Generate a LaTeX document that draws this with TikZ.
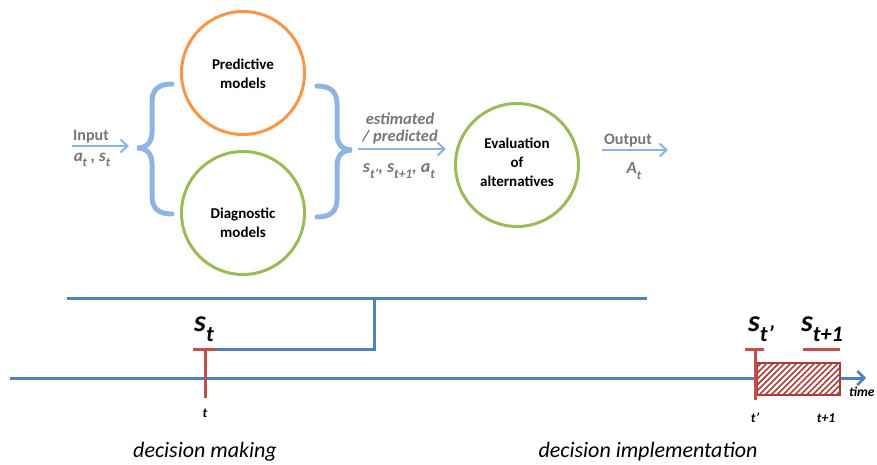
\documentclass[tikz,border=0pt]{standalone}
\usepackage{fontspec}
\setmainfont{Carlito}
\usetikzlibrary{arrows.meta,patterns.meta}
\definecolor{lblue}{RGB}{142,180,227}
\definecolor{dblue}{RGB}{79,129,189}
\definecolor{orng}{RGB}{247,150,70}
\definecolor{grn}{RGB}{155,187,89}
\definecolor{rd}{RGB}{192,80,77}
\definecolor{hatch}{RGB}{170,60,58}
\definecolor{gry}{RGB}{118,118,118}
% lowered, reduced index
\newcommand{\dn}[1]{\raisebox{-0.32em}{\scalebox{0.74}{#1}}}
\begin{document}
\begin{tikzpicture}[x=1pt,y=-1pt,
  model/.style={circle,line width=3pt,minimum size=123pt,inner sep=0pt},
  mtext/.style={font=\fontsize{15}{19}\selectfont\bfseries,align=center,text=black},
  brc/.style={draw=lblue,line width=5pt,line cap=round},
  flow/.style={draw=lblue,line width=2.5pt,-{Straight Barb[length=7pt,width=13pt,line width=2pt]}},
  glab/.style={font=\fontsize{16}{18}\selectfont\bfseries,text=gry,inner sep=0pt},
  gmath/.style={font=\fontsize{16.5}{18}\selectfont\bfseries\itshape,text=gry,inner sep=0pt},
  state/.style={font=\fontsize{30}{32}\selectfont\bfseries\itshape,inner sep=0pt},
  tick/.style={draw=rd,line width=3pt},
  tlab/.style={font=\fontsize{13.5}{15}\selectfont\bfseries\itshape,inner sep=0pt},
  phase/.style={font=\fontsize{22}{26}\selectfont\itshape,inner sep=0pt},
  tl/.style={draw=dblue,line width=3pt}]
\useasboundingbox (0,0) rectangle (877,465);

% models and evaluation
\node[model,draw=orng] (pred) at (243,73) {};
\node[mtext] at (243,74) {Predictive\\models};
\node[model,draw=grn] (diag) at (243,213) {};
\node[mtext] at (243,223) {Diagnostic\\models};
\node[model,draw=grn] (eval) at (517,165) {};
\node[mtext,font=\fontsize{15}{19}\selectfont\bfseries] at (517,162) {Evaluation\\of\\alternatives};

% braces around the model group
\draw[brc] (172,84) .. controls (158,84) and (152,90) .. (152,102) -- (152,132)
  .. controls (152,143) and (146,148) .. (137,148)
  .. controls (146,148) and (152,153) .. (152,164) -- (152,196)
  .. controls (152,208) and (158,214) .. (172,214);
\draw[brc] (317,86) .. controls (331,86) and (337,92) .. (337,104) -- (337,134)
  .. controls (337,145) and (343,150) .. (352,150)
  .. controls (343,150) and (337,155) .. (337,166) -- (337,199)
  .. controls (337,211) and (331,217) .. (317,217);

% information flow
\coordinate (inA) at (72,146);
\coordinate (inB) at (129,146);
\draw[flow] (inA) -- (inB);
\node[glab] at (91,137) {Input};
\node[gmath,font=\fontsize{17}{18}\selectfont\bfseries\itshape] at (92,160) {a\dn{t} , s\dn{t}};

\coordinate (estA) at (358,149);
\coordinate (estB) at (446,149);
\draw[flow] (estA) -- (estB);
\node[gmath] at (400,119) {estimated};
\node[gmath] at (400,137) {/ predicted};
\node[gmath,font=\fontsize{18}{18}\selectfont\bfseries\itshape] at (399,171) {s\dn{t’}, s\dn{t+1}, a\dn{t}};

\coordinate (outA) at (602,150);
\coordinate (outB) at (668,150);
\draw[flow] (outA) -- (outB);
\node[glab] at (628,141) {Output};
\node[gmath,font=\fontsize{17}{18}\selectfont\bfseries\itshape] at (634,171) {A\dn{t}};

% bracket linking the decision step to the state
\coordinate (brL) at (67,298);
\coordinate (brR) at (647,298);
\coordinate (brM) at (374,298);
\coordinate (brD) at (374,349);
\coordinate (stR) at (217,349);
\draw[tl] (brL) -- (brR);
\draw[tl,line join=miter] (brM) -- (brD) -- (stR);

% time axis
\coordinate (t0) at (10,378);
\coordinate (t1) at (866,378);
\draw[draw=dblue,line width=3pt,-{Straight Barb[length=7pt,width=14pt,line width=2.5pt]}] (t0) -- (t1);
\node[tlab,anchor=west] at (849,392) {time};

% implementation interval
\fill[white] (757,363) rectangle (840,395);
\draw[draw=hatch,line width=1.5pt,pattern={Lines[angle=45,distance=4.2pt,line width=1.6pt]},pattern color=hatch] (757,363) rectangle (840,395);

% state marks and time ticks
\node[state] (st) at (204,329) {s\dn{t}};
\draw[tick] (193,349) -- (217,349);
\draw[tick] (205,349) -- (205,398);
\node[tlab] at (205,413) {t};

\node[state] (stp) at (761,329) {s\dn{t’}};
\draw[tick] (745,349) -- (764,349);
\draw[tick] (755,349) -- (755,400);
\node[tlab] at (755,418) {t’};

\node[state] (stn) at (822,329) {s\dn{t+1}};
\draw[tick] (803,349) -- (840,349);
\node[tlab] at (826,418) {t+1};

% phases
\node[phase] at (205,452) {decision making};
\node[phase] at (648,452) {decision implementation};
\end{tikzpicture}
\end{document}
